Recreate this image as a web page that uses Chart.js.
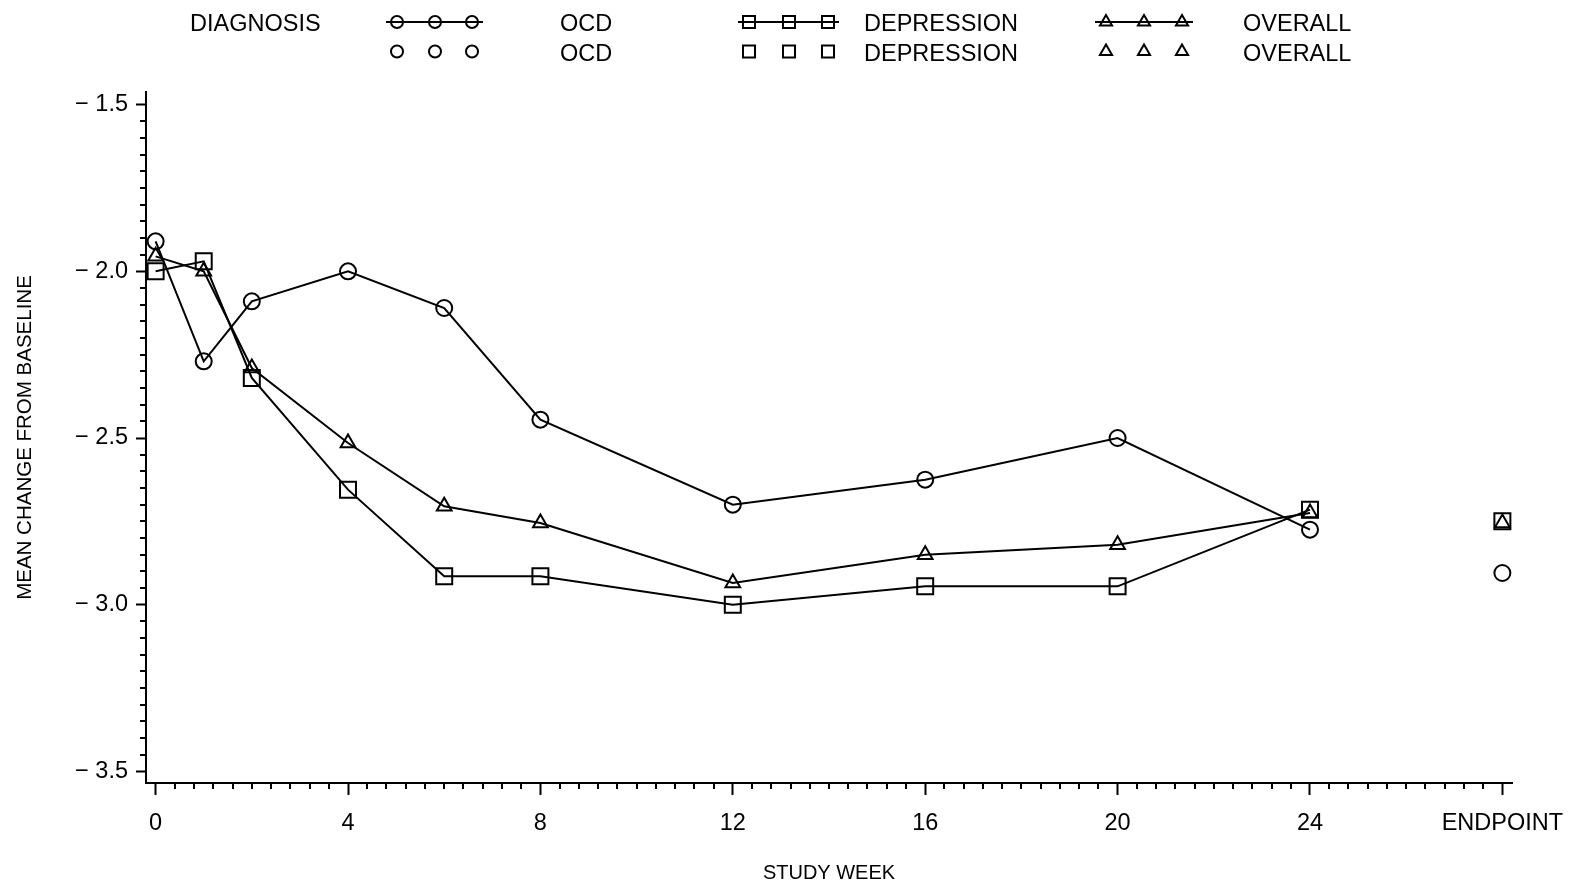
<!DOCTYPE html>
<html>
<head>
<meta charset="utf-8">
<script src="https://cdn.jsdelivr.net/npm/chart.js@4/dist/chart.umd.min.js"></script>
<style>
  html, body { margin: 0; padding: 0; background: #fff; }
  #wrap { width: 1579px; height: 888px; position: relative; }
</style>
</head>
<body>
<div id="wrap"><canvas id="c" width="1579" height="888"></canvas></div>
<script>
// Study weeks with on-treatment visits, plus the endpoint column
const weeks = [0, 1, 2, 4, 6, 8, 12, 16, 20, 24];
const endpointWeek = 28;

// Mean change from baseline by diagnosis
const ocd        = [-1.91, -2.27, -2.09, -2.00, -2.11, -2.445, -2.70, -2.625, -2.50, -2.775];
const depression = [-2.00, -1.97, -2.32, -2.655, -2.915, -2.915, -3.00, -2.945, -2.945, -2.715];
const overall    = [-1.955, -2.00, -2.29, -2.515, -2.705, -2.755, -2.935, -2.85, -2.82, -2.725];

// Endpoint values (last observation)
const ocdEndpoint = -2.905;
const depressionEndpoint = -2.75;
const overallEndpoint = -2.755;

// Axis ticks
const xTickValues = [0, 4, 8, 12, 16, 20, 24, 28];
const xTickLabels = ['0', '4', '8', '12', '16', '20', '24', 'ENDPOINT'];
const yTickValues = [-3.5, -3.0, -2.5, -2.0, -1.5];

const FONT = '"Liberation Sans", Arial, Helvetica, sans-serif';
const INK = '#000';

const toPoints = (ys) => ys.map((v, i) => ({ x: weeks[i], y: v }));

function lineSet(label, values, style, radius) {
  return {
    label, data: toPoints(values), showLine: true,
    borderColor: INK, borderWidth: 2, backgroundColor: 'rgba(0,0,0,0)',
    pointStyle: style, pointRadius: radius, pointBorderWidth: 2,
    pointBorderColor: INK, pointBackgroundColor: 'rgba(0,0,0,0)',
    legendRow: 0, legendRadius: style === 'rect' ? 8.5 : (style === 'triangle' ? 7 : 6)
  };
}
function endSet(label, value, style, radius) {
  return {
    label, data: [{ x: endpointWeek, y: value }], showLine: false,
    borderColor: INK, backgroundColor: 'rgba(0,0,0,0)',
    pointStyle: style, pointRadius: radius, pointBorderWidth: 2,
    pointBorderColor: INK, pointBackgroundColor: 'rgba(0,0,0,0)',
    legendRow: 1, legendRadius: style === 'rect' ? 8.5 : (style === 'triangle' ? 7 : 6)
  };
}

// Legend groups: marker centres and label position for each diagnosis
const legendGroups = [
  { marks: [397, 435, 472], labelX: 560 },
  { marks: [749, 789, 828], labelX: 864 },
  { marks: [1106, 1144, 1182], labelX: 1243 }
];

function drawMark(ctx, style, r, x, y) {
  if (Chart.helpers && Chart.helpers.drawPoint) {
    ctx.fillStyle = 'rgba(0,0,0,0)';
    Chart.helpers.drawPoint(ctx, { pointStyle: style, radius: r, borderWidth: 2, rotation: 0 }, x, y);
    return;
  }
  ctx.beginPath();
  if (style === 'circle') ctx.arc(x, y, r, 0, Math.PI * 2);
  else if (style === 'rect') { const s = r * Math.SQRT1_2; ctx.rect(x - s, y - s, 2 * s, 2 * s); }
  else { ctx.moveTo(x, y - r); ctx.lineTo(x + r * 0.866, y + r / 2); ctx.lineTo(x - r * 0.866, y + r / 2); ctx.closePath(); }
  ctx.stroke();
}

const headerLegend = {
  id: 'headerLegend',
  afterDraw(chart) {
    const ctx = chart.ctx;
    const sets = chart.data.datasets;
    ctx.save();
    ctx.strokeStyle = INK;
    ctx.fillStyle = INK;
    ctx.lineWidth = 2;
    ctx.font = '23.5px ' + FONT;
    ctx.textBaseline = 'alphabetic';
    ctx.textAlign = 'left';
    ctx.fillText('DIAGNOSIS', 190, 31);
    const rowY = [22, 51.5];
    const rowBase = [31, 60.5];
    const lined = sets.filter(d => d.legendRow === 0);
    const ends = sets.filter(d => d.legendRow === 1);
    [lined, ends].forEach((rowSets, row) => {
      rowSets.forEach((ds, g) => {
        const grp = legendGroups[g];
        const y = rowY[row];
        ctx.strokeStyle = INK;
        ctx.lineWidth = 2;
        if (row === 0) {
          ctx.beginPath();
          ctx.moveTo(grp.marks[0] - 11, y);
          ctx.lineTo(grp.marks[2] + 11, y);
          ctx.stroke();
        }
        grp.marks.forEach(mx => drawMark(ctx, ds.pointStyle, ds.legendRadius, mx, y));
        ctx.fillStyle = INK;
        ctx.fillText(ds.label, grp.labelX, rowBase[row]);
      });
    });
    ctx.restore();
  }
};

// Minor tick marks along both axes
const minorTicks = {
  id: 'minorTicks',
  afterDraw(chart) {
    const { ctx } = chart;
    const x = chart.scales.x, y = chart.scales.y;
    ctx.save();
    ctx.strokeStyle = INK;
    ctx.lineWidth = 2;
    ctx.beginPath();
    for (let i = 1; i < 70; i++) {
      if (i % 10 === 0) continue;
      const px = Math.round(x.getPixelForValue(i * 0.4));
      ctx.moveTo(px, x.top);
      ctx.lineTo(px, x.top + 6);
    }
    for (let i = 1; i < 40; i++) {
      if (i % 10 === 0) continue;
      const py = Math.round(y.getPixelForValue(-3.5 + i * 0.05));
      ctx.moveTo(y.right - 6, py);
      ctx.lineTo(y.right, py);
    }
    ctx.stroke();
    ctx.restore();
  }
};

new Chart(document.getElementById('c'), {
  type: 'scatter',
  data: {
    datasets: [
      lineSet('OCD', ocd, 'circle', 8),
      lineSet('DEPRESSION', depression, 'rect', 11.3),
      lineSet('OVERALL', overall, 'triangle', 8.5),
      endSet('OCD', ocdEndpoint, 'circle', 8),
      endSet('DEPRESSION', depressionEndpoint, 'rect', 11.3),
      endSet('OVERALL', overallEndpoint, 'triangle', 8.5)
    ]
  },
  options: {
    responsive: false,
    animation: false,
    devicePixelRatio: 1,
    layout: { padding: { top: 92, right: 67, left: 0, bottom: 0 } },
    plugins: { legend: { display: false }, tooltip: { enabled: false } },
    scales: {
      x: {
        type: 'linear', min: -0.2, max: 28.2,
        afterFit(scale) { scale.height = 105; },
        afterBuildTicks(scale) { scale.ticks = xTickValues.map(v => ({ value: v })); },
        border: { display: true, color: INK, width: 2 },
        grid: { drawOnChartArea: false, drawTicks: true, tickLength: 12, tickWidth: 2, tickColor: INK, color: INK },
        ticks: {
          color: INK, font: { family: FONT, size: 23.5 }, padding: 14,
          autoSkip: false, maxRotation: 0, minRotation: 0,
          callback: (v, i) => xTickLabels[i]
        },
        title: { display: true, text: 'STUDY WEEK', color: INK, font: { family: FONT, size: 20 }, padding: { top: 0, bottom: 3 } }
      },
      y: {
        type: 'linear', min: -3.535, max: -1.462,
        afterFit(scale) { scale.width = 146; },
        afterBuildTicks(scale) { scale.ticks = yTickValues.map(v => ({ value: v })); },
        border: { display: true, color: INK, width: 2 },
        grid: { drawOnChartArea: false, drawTicks: true, tickLength: 10, tickWidth: 2, tickColor: INK, color: INK },
        ticks: {
          color: INK, font: { family: FONT, size: 23.5 }, padding: 8,
          autoSkip: false,
          callback: (v) => '\u2212 ' + Math.abs(v).toFixed(1)
        },
        title: { display: true, text: 'MEAN CHANGE FROM BASELINE', color: INK, font: { family: FONT, size: 20.5 }, padding: { top: 13, bottom: 0 } }
      }
    }
  },
  plugins: [minorTicks, headerLegend]
});
</script>
</body>
</html>
